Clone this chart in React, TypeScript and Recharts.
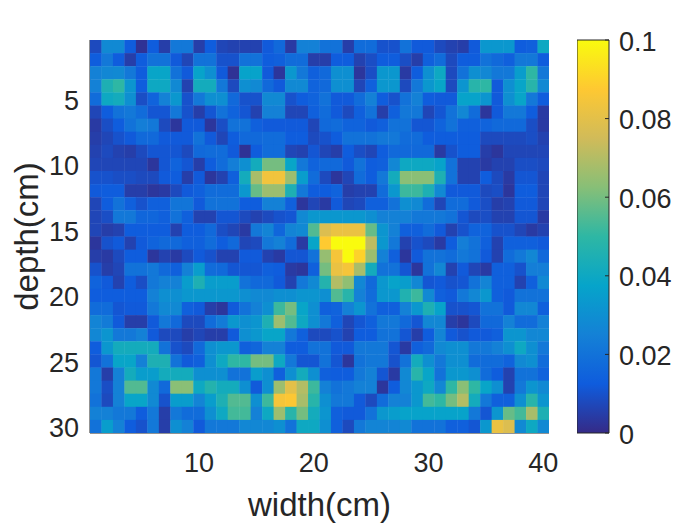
import { Bar, BarChart, Scatter, ScatterChart, XAxis, YAxis } from "recharts";

const widthTicks = [10, 20, 30, 40];
const depthTicks = [5, 10, 15, 20, 25, 30];
const scaleTicks = [0, 0.02, 0.04, 0.06, 0.08, 0.1];
const parula = ["#352A87", "#0F5CDD", "#1481D6", "#06A4CA", "#2EB7A4", "#87BF77", "#D1BB59", "#FEC832", "#F9FB0E"];

// values, in thousandths, one line per depth
const heat = [
  [8, 28, 28, 13, 2, 13, 5, 22, 22, 5, 13, 7, 6, 6, 6, 12, 17, 4, 25, 25, 20, 20, 5, 18, 18, 10, 10, 20, 12, 12, 8, 6, 5, 12, 33, 33, 33, 13, 14, 40],
  [13, 22, 13, 5, 13, 20, 20, 12, 7, 20, 20, 10, 10, 20, 20, 13, 14, 18, 18, 5, 5, 13, 13, 6, 9, 13, 13, 9, 5, 14, 18, 8, 13, 13, 20, 17, 14, 22, 22, 13],
  [25, 27, 28, 22, 13, 38, 38, 20, 12, 37, 30, 12, 2, 37, 37, 12, 3, 33, 22, 14, 17, 30, 30, 3, 9, 33, 33, 4, 13, 30, 40, 8, 20, 30, 27, 22, 22, 35, 50, 22],
  [25, 45, 50, 32, 13, 40, 40, 28, 6, 42, 42, 22, 8, 30, 28, 17, 12, 28, 28, 15, 17, 30, 30, 7, 14, 33, 33, 8, 22, 33, 38, 8, 32, 48, 50, 12, 30, 38, 48, 28],
  [18, 40, 42, 30, 9, 15, 25, 33, 10, 22, 30, 30, 17, 10, 10, 28, 28, 10, 13, 15, 20, 12, 12, 18, 25, 13, 10, 20, 25, 13, 12, 12, 37, 37, 32, 12, 30, 38, 22, 13],
  [7, 13, 20, 22, 18, 11, 11, 22, 10, 5, 11, 20, 15, 11, 6, 25, 25, 7, 7, 14, 18, 12, 8, 14, 20, 5, 14, 22, 22, 7, 11, 20, 27, 18, 3, 12, 22, 22, 13, 4],
  [4, 9, 13, 20, 24, 22, 8, 3, 12, 12, 3, 9, 20, 20, 14, 12, 12, 12, 12, 7, 17, 18, 15, 15, 12, 14, 20, 20, 11, 11, 15, 20, 14, 14, 15, 17, 17, 17, 9, 4],
  [5, 7, 10, 12, 17, 17, 12, 12, 12, 20, 12, 7, 13, 17, 17, 18, 18, 13, 13, 8, 10, 13, 20, 20, 20, 22, 22, 18, 18, 13, 13, 13, 13, 13, 8, 8, 8, 8, 9, 6],
  [6, 8, 6, 5, 8, 11, 11, 11, 8, 17, 18, 18, 12, 2, 13, 18, 18, 7, 6, 11, 7, 5, 13, 9, 7, 13, 17, 17, 17, 17, 4, 10, 13, 13, 5, 3, 7, 7, 7, 7],
  [7, 7, 7, 7, 7, 3, 11, 15, 11, 5, 13, 18, 24, 30, 42, 60, 60, 38, 22, 15, 17, 17, 12, 20, 13, 14, 27, 40, 40, 40, 37, 20, 6, 6, 4, 6, 6, 9, 9, 8],
  [10, 10, 9, 9, 8, 8, 12, 13, 5, 12, 3, 6, 14, 42, 68, 84, 84, 66, 35, 18, 8, 3, 7, 18, 13, 22, 42, 63, 63, 63, 45, 20, 6, 6, 13, 8, 4, 11, 11, 7],
  [12, 13, 13, 5, 5, 3, 4, 8, 12, 14, 18, 18, 18, 33, 58, 66, 66, 45, 22, 13, 13, 15, 5, 6, 6, 18, 33, 52, 52, 45, 28, 12, 12, 12, 8, 9, 3, 13, 13, 7],
  [7, 13, 20, 14, 10, 14, 14, 21, 21, 12, 20, 20, 20, 13, 13, 25, 25, 14, 3, 7, 4, 12, 7, 8, 14, 14, 20, 30, 28, 18, 7, 18, 18, 12, 9, 5, 6, 12, 12, 7],
  [7, 9, 22, 22, 16, 16, 14, 20, 14, 6, 6, 11, 11, 8, 6, 8, 10, 11, 28, 33, 33, 33, 33, 33, 30, 25, 25, 25, 22, 22, 22, 20, 11, 8, 9, 6, 6, 11, 11, 4],
  [7, 5, 6, 13, 13, 13, 13, 6, 13, 13, 17, 9, 7, 4, 22, 26, 16, 26, 28, 55, 78, 82, 82, 82, 58, 32, 25, 14, 14, 18, 12, 6, 10, 15, 15, 10, 10, 7, 4, 6],
  [3, 10, 12, 6, 12, 15, 17, 17, 14, 14, 18, 13, 17, 7, 8, 22, 25, 18, 4, 38, 88, 100, 100, 100, 72, 33, 22, 6, 10, 8, 4, 13, 24, 20, 14, 6, 14, 14, 14, 12],
  [5, 4, 8, 13, 13, 3, 6, 4, 8, 12, 10, 6, 6, 12, 12, 6, 4, 11, 11, 20, 65, 85, 100, 90, 66, 25, 14, 3, 12, 20, 20, 18, 22, 20, 12, 6, 18, 22, 27, 17],
  [10, 5, 7, 20, 20, 22, 17, 14, 25, 35, 18, 17, 11, 11, 11, 14, 13, 4, 3, 14, 60, 82, 85, 68, 42, 20, 20, 11, 3, 20, 27, 6, 12, 7, 4, 14, 14, 10, 24, 24],
  [15, 12, 6, 13, 9, 22, 25, 25, 35, 45, 35, 35, 35, 20, 17, 17, 12, 6, 22, 28, 47, 70, 64, 27, 17, 33, 37, 35, 27, 11, 12, 10, 11, 20, 26, 14, 14, 6, 14, 28],
  [13, 13, 13, 13, 13, 25, 30, 30, 33, 33, 33, 33, 33, 30, 28, 28, 30, 30, 32, 32, 30, 55, 48, 25, 18, 33, 33, 46, 52, 28, 14, 12, 22, 27, 33, 14, 12, 20, 20, 20],
  [18, 18, 11, 12, 12, 22, 28, 28, 14, 12, 5, 3, 12, 20, 25, 30, 52, 60, 38, 30, 14, 15, 25, 32, 20, 14, 14, 25, 33, 45, 37, 10, 10, 11, 20, 20, 12, 27, 27, 14],
  [26, 23, 12, 5, 5, 12, 22, 17, 8, 8, 18, 23, 33, 30, 32, 45, 66, 55, 40, 30, 22, 14, 7, 11, 14, 22, 22, 17, 11, 27, 27, 5, 3, 8, 17, 17, 25, 18, 18, 25],
  [27, 32, 22, 22, 25, 12, 8, 8, 5, 7, 5, 5, 12, 30, 33, 38, 38, 22, 14, 8, 8, 10, 6, 13, 13, 20, 20, 11, 5, 13, 26, 12, 10, 12, 12, 14, 32, 32, 27, 27],
  [13, 33, 42, 42, 42, 42, 20, 10, 8, 17, 30, 33, 33, 14, 16, 25, 25, 13, 13, 20, 20, 12, 12, 22, 22, 22, 11, 4, 14, 17, 28, 30, 30, 22, 22, 25, 30, 40, 30, 22],
  [11, 20, 38, 38, 25, 45, 45, 20, 12, 14, 30, 40, 50, 50, 60, 60, 40, 22, 11, 11, 20, 11, 3, 20, 22, 22, 10, 20, 42, 30, 22, 30, 30, 18, 18, 18, 15, 28, 30, 18],
  [22, 5, 25, 42, 35, 35, 42, 42, 42, 30, 30, 30, 20, 20, 35, 30, 14, 30, 42, 30, 14, 13, 13, 22, 25, 11, 4, 28, 48, 38, 20, 33, 33, 30, 18, 13, 6, 20, 20, 15],
  [22, 9, 25, 55, 55, 28, 17, 63, 63, 40, 47, 42, 42, 30, 12, 30, 66, 80, 70, 52, 25, 20, 22, 25, 25, 3, 13, 27, 33, 40, 27, 50, 63, 50, 38, 30, 6, 22, 32, 28],
  [20, 8, 25, 38, 38, 28, 10, 35, 35, 26, 35, 45, 55, 55, 30, 52, 85, 87, 68, 48, 30, 22, 22, 12, 8, 18, 25, 25, 33, 53, 50, 60, 70, 42, 22, 14, 14, 30, 48, 32],
  [25, 25, 22, 22, 13, 22, 5, 22, 18, 18, 30, 40, 53, 53, 25, 40, 66, 48, 60, 42, 32, 14, 12, 12, 20, 33, 35, 37, 37, 37, 37, 37, 37, 22, 11, 32, 58, 53, 68, 45],
  [20, 35, 25, 13, 10, 22, 5, 30, 25, 12, 22, 22, 22, 27, 27, 27, 30, 20, 40, 40, 30, 14, 8, 22, 26, 26, 26, 28, 20, 20, 20, 14, 14, 11, 33, 82, 78, 28, 40, 28],
];

const plotW = 459;
const plotH = 393;
const cellW = plotW / 40;
const cellH = plotH / 30;
const ink = "#262626";
const font = "Liberation Sans, Arial, sans-serif";

function parulaColor(v: number) {
  const t = Math.min(Math.max(v / 0.1, 0), 1) * (parula.length - 1);
  const i = Math.min(Math.floor(t), parula.length - 2);
  const hex = (c: string, p: number) => parseInt(c.slice(p, p + 2), 16);
  const mix = (p: number) => Math.round(hex(parula[i], p) + (hex(parula[i + 1], p) - hex(parula[i], p)) * (t - i));
  return `rgb(${mix(1)},${mix(3)},${mix(5)})`;
}

const cells = heat.flatMap((row, d) =>
  row.map((v, w) => ({ width: w + 1, depth: d + 1, value: v / 1000 })),
);

const HeatCell = (p: any) => (
  <rect
    x={p.cx - cellW / 2}
    y={p.cy - cellH / 2}
    width={cellW + 0.4}
    height={cellH + 0.4}
    fill={parulaColor(p.payload.value)}
  />
);

const tickStyle = { fontSize: 27, fill: ink, fontFamily: font };
const labelStyle = { fontSize: 33, fill: ink, fontFamily: font };

export default function App() {
  return (
    <div style={{ position: "absolute", left: 0, top: 0, width: 700, height: 525, background: "#fff" }}>
      <div style={{ position: "absolute", left: 0, top: 0 }}>
        <ScatterChart width={700} height={525} margin={{ top: 40, right: 151, bottom: 0, left: 0 }}>
          <XAxis
            type="number"
            dataKey="width"
            domain={[0.5, 40.5]}
            ticks={widthTicks}
            height={92}
            stroke={ink}
            tickSize={-4}
            tickMargin={24}
            tick={tickStyle}
            allowDataOverflow
            label={{ value: "width(cm)", position: "insideBottom", offset: 9, style: labelStyle }}
          />
          <YAxis
            type="number"
            dataKey="depth"
            domain={[0.5, 30.5]}
            ticks={depthTicks}
            reversed
            width={90}
            stroke={ink}
            tickSize={-4}
            tickMargin={15}
            tick={{ ...tickStyle, dy: 1 }}
            allowDataOverflow
            label={{ value: "depth(cm)", angle: -90, position: "insideLeft", offset: 26, style: { ...labelStyle, textAnchor: "middle" } }}
          />
          <XAxis xAxisId="top" orientation="top" type="number" domain={[0.5, 40.5]} ticks={widthTicks} height={0} stroke={ink} tickSize={-4} tick={false} />
          <YAxis yAxisId="right" orientation="right" type="number" domain={[0.5, 30.5]} ticks={depthTicks} reversed width={0} stroke={ink} tickSize={-4} tick={false} />
          <Scatter data={cells} shape={HeatCell} isAnimationActive={false} />
        </ScatterChart>
      </div>
      <div style={{ position: "absolute", left: 577, top: 20 }}>
        <BarChart
          width={123}
          height={433}
          data={[{ name: "scale", top: 0.1 }]}
          barCategoryGap={0}
          margin={{ top: 20, right: 0, bottom: 20, left: 0 }}
        >
          <defs>
            <linearGradient id="parulaBar" x1="0" y1="1" x2="0" y2="0">
              {parula.map((c, i) => (
                <stop key={c} offset={i / (parula.length - 1)} stopColor={c} />
              ))}
            </linearGradient>
          </defs>
          <XAxis dataKey="name" hide />
          <YAxis
            orientation="right"
            type="number"
            domain={[0, 0.1]}
            ticks={scaleTicks}
            width={91}
            axisLine={false}
            stroke={ink}
            tickSize={-4}
            tickMargin={14}
            tick={{ ...tickStyle, dy: 1 }}
          />
          <Bar dataKey="top" fill="url(#parulaBar)" stroke={ink} isAnimationActive={false} />
        </BarChart>
      </div>
    </div>
  );
}
